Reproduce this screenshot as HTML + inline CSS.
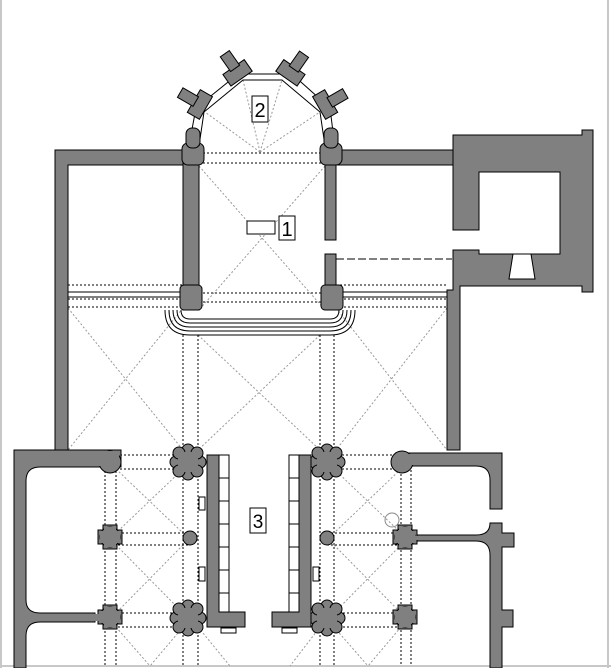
<!DOCTYPE html>
<html><head><meta charset="utf-8"><style>html,body{margin:0;padding:0;background:#fff}svg{display:block}</style></head><body>
<svg width="611" height="668" viewBox="0 0 611 668" xmlns="http://www.w3.org/2000/svg" font-family="Liberation Sans, sans-serif">
<rect x="0" y="0" width="611" height="668" fill="#fff"/>
<line x1="1" y1="0" x2="1" y2="668" stroke="#c8c8c8" stroke-width="2"/>
<line x1="608" y1="0" x2="608" y2="668" stroke="#c8c8c8" stroke-width="2"/>
<line x1="0" y1="666" x2="611" y2="666" stroke="#c8c8c8" stroke-width="2"/>

<g stroke="#999" stroke-width="1" stroke-dasharray="2,2" fill="none">
<line x1="199" y1="166" x2="325" y2="310"/><line x1="325" y1="166" x2="199" y2="310"/>
<line x1="260" y1="152" x2="243" y2="80"/><line x1="260" y1="152" x2="282" y2="80"/>
<line x1="260" y1="152" x2="205" y2="112"/><line x1="260" y1="152" x2="320" y2="112"/>
<line x1="68" y1="308" x2="183" y2="450"/><line x1="183" y1="308" x2="68" y2="450"/>
<line x1="198" y1="335" x2="320" y2="450"/><line x1="320" y1="335" x2="198" y2="450"/>
<line x1="336" y1="308" x2="447" y2="450"/><line x1="447" y1="308" x2="336" y2="450"/>
<line x1="116" y1="469" x2="183" y2="533"/><line x1="183" y1="469" x2="116" y2="533"/>
<line x1="116" y1="545" x2="183" y2="613"/><line x1="183" y1="545" x2="116" y2="613"/>
<line x1="116" y1="627" x2="150" y2="666"/><line x1="183" y1="627" x2="150" y2="666"/>
<line x1="334" y1="469" x2="401" y2="533"/><line x1="401" y1="469" x2="334" y2="533"/>
<line x1="334" y1="545" x2="401" y2="613"/><line x1="401" y1="545" x2="334" y2="613"/>
<line x1="334" y1="627" x2="368" y2="666"/><line x1="401" y1="627" x2="368" y2="666"/>
<line x1="198" y1="627" x2="230" y2="666"/><line x1="320" y1="627" x2="290" y2="666"/>
</g>

<g stroke="#000" stroke-width="1" stroke-dasharray="2,2" fill="none">
<line x1="199" y1="153" x2="325" y2="153"/><line x1="199" y1="163" x2="325" y2="163"/>
<line x1="199" y1="293" x2="325" y2="293"/><line x1="199" y1="302" x2="325" y2="302"/>
<line x1="68" y1="285" x2="183" y2="285"/><line x1="68" y1="299" x2="183" y2="299"/><line x1="68" y1="307" x2="183" y2="307"/>
<line x1="336" y1="285" x2="447" y2="285"/><line x1="336" y1="299" x2="447" y2="299"/><line x1="336" y1="307" x2="447" y2="307"/>
<line x1="183" y1="335" x2="183" y2="450"/><line x1="198" y1="335" x2="198" y2="450"/>
<line x1="320" y1="335" x2="320" y2="450"/><line x1="334" y1="335" x2="334" y2="450"/>
<line x1="105" y1="467" x2="105" y2="666"/><line x1="116" y1="467" x2="116" y2="666"/>
<line x1="183" y1="455" x2="183" y2="666"/><line x1="198" y1="455" x2="198" y2="666"/>
<line x1="320" y1="455" x2="320" y2="666"/><line x1="334" y1="455" x2="334" y2="666"/>
<line x1="401" y1="466" x2="401" y2="666"/><line x1="411" y1="466" x2="411" y2="666"/>
<line x1="120" y1="455" x2="183" y2="455"/><line x1="120" y1="469" x2="183" y2="469"/>
<line x1="334" y1="455" x2="400" y2="455"/><line x1="334" y1="469" x2="400" y2="469"/>
<line x1="110" y1="533" x2="190" y2="533"/><line x1="110" y1="545" x2="190" y2="545"/>
<line x1="327" y1="533" x2="405" y2="533"/><line x1="327" y1="545" x2="405" y2="545"/>
<line x1="110" y1="613" x2="190" y2="613"/><line x1="110" y1="627" x2="190" y2="627"/>
<line x1="327" y1="613" x2="405" y2="613"/><line x1="327" y1="627" x2="405" y2="627"/>
</g>
<line x1="336" y1="259" x2="452" y2="259" stroke="#000" stroke-dasharray="8,3"/>

<g fill="#808080" stroke="#000" stroke-width="1">
<path d="M55,150 H186 V165 H68 V450 H55 Z"/>
<path d="M183,150 H199 V310 H183 Z"/>
<path d="M325,150 H336 V240 H325 Z"/>
<path d="M325,254 H336 V310 H325 Z"/>
<path d="M336,150 H453 V165 H336 Z"/>
<path d="M453,135 H582 V130 H593 V292 H582 V286 H460 V450 H447 V290 H453 V250 H479 V254 H560 V172 H479 V230 H453 Z"/>
<path d="M513,254 H531 L535,279 H509 Z" fill="#fff"/>
</g>
<rect x="68" y="292" width="115" height="5" fill="#fff" stroke="#000"/>
<rect x="336" y="292" width="111" height="5" fill="#fff" stroke="#000"/>
<g fill="#808080" stroke="#000">
<rect x="180" y="285" width="22" height="25" rx="4"/>
<rect x="321" y="285" width="22" height="25" rx="4"/>
<rect x="182" y="143" width="22" height="22" rx="6"/>
<rect x="320" y="143" width="22" height="22" rx="6"/>
</g>
<g fill="none" stroke="#000" stroke-width="1">
<path d="M165,310 Q165,335 190,335 H330 Q355,335 355,310"/>
<path d="M169,310 Q169,331 190,331 H330 Q351,331 351,310"/>
<path d="M173,310 Q173,327 190,327 H330 Q347,327 347,310"/>
<path d="M177,310 Q177,323 190,323 H330 Q343,323 343,310"/>
<path d="M181,310 Q181,319 190,319 H330 Q339,319 339,310"/>
</g>
<g fill="none" stroke="#000">
<polyline points="190,140 196,108 238,74 292,74 330,108 334,140"/>
<polyline points="199,146 204,112 243,80 282,80 320,112 325,146"/>
</g>
<g fill="#808080" stroke="#000">
<g transform="translate(237,72) rotate(-35)"><rect x="-13" y="-6" width="26" height="14"/><rect x="-5" y="-22" width="11" height="18"/></g>
<g transform="translate(291,72) rotate(35)"><rect x="-13" y="-6" width="26" height="14"/><rect x="-5" y="-22" width="11" height="18"/></g>
<g transform="translate(199,104) rotate(-60)"><rect x="-13" y="-6" width="26" height="14"/><rect x="-5" y="-22" width="11" height="18"/></g>
<g transform="translate(326,104) rotate(60)"><rect x="-13" y="-6" width="26" height="14"/><rect x="-5" y="-22" width="11" height="18"/></g>
<rect x="186" y="128" width="14" height="20" rx="6"/>
<rect x="324" y="128" width="14" height="20" rx="6"/>
</g>
<rect x="247" y="221" width="28" height="13" fill="#fff" stroke="#000"/>
<rect x="279" y="216" width="16" height="24" fill="#fff" stroke="#000"/>
<text x="287" y="236" font-size="20" text-anchor="middle">1</text>
<rect x="252" y="96" width="16" height="26" fill="#fff" stroke="#000"/>
<text x="260" y="117" font-size="20" text-anchor="middle">2</text>

<g fill="#808080" stroke="#000">
<path d="M14,450 H121 V467 H40 Q26,467 26,481 V600 Q26,613 40,613 H95 V622 H40 Q26,622 26,636 V668 H14 Z"/>
<path d="M396,453 H502 V509 H490 V480 Q490,466 476,466 H400 Z"/>
<path d="M490,523 H502 V533 H514 V547 H502 V610 H513 V627 H502 V668 H490 V555 Q490,541 476,541 H410 V535 H476 Q490,535 490,523 Z"/>
</g>
<g fill="#808080" stroke="#000">
<g id="bp"><circle cx="188" cy="462" r="13"/><circle cx="188" cy="450" r="6"/><circle cx="188" cy="474" r="6"/><circle cx="176" cy="462" r="6"/><circle cx="200" cy="462" r="6"/><circle cx="179" cy="453" r="6"/><circle cx="197" cy="453" r="6"/><circle cx="179" cy="471" r="6"/><circle cx="197" cy="471" r="6"/></g>
<use href="#bp" x="139"/><use href="#bp" y="156"/><use href="#bp" x="139" y="156"/>
<g id="sp"><rect x="98" y="530" width="24" height="14"/><rect x="103" y="525" width="14" height="24"/><circle cx="110" cy="537" r="10"/></g>
<use href="#sp" y="80"/><use href="#sp" x="295"/><use href="#sp" x="295" y="80"/>
<circle cx="110" cy="462" r="11"/><circle cx="402" cy="462" r="11"/>
<circle cx="190" cy="538" r="7"/><circle cx="327" cy="538" r="7"/>
</g>
<g fill="#808080">
<rect x="178" y="452" width="20" height="20"/><rect x="317" y="452" width="20" height="20"/>
<rect x="178" y="608" width="20" height="20"/><rect x="317" y="608" width="20" height="20"/>
<rect x="100" y="531" width="20" height="12"/><rect x="104" y="527" width="12" height="20"/>
<rect x="100" y="611" width="20" height="12"/><rect x="104" y="607" width="12" height="20"/>
<rect x="395" y="531" width="20" height="12"/><rect x="399" y="527" width="12" height="20"/>
<rect x="395" y="611" width="20" height="12"/><rect x="399" y="607" width="12" height="20"/>
<rect x="95" y="451" width="24" height="15"/><rect x="398" y="454" width="16" height="11"/>
<rect x="85" y="614" width="20" height="7"/><rect x="410" y="536" width="10" height="4"/>
</g>
<circle cx="392" cy="520" r="7" fill="none" stroke="#888"/>
<g stroke="#000">
<path d="M207,455 H219 V612 H245 V627 H207 Z" fill="#808080"/>
<rect x="219" y="455" width="10" height="157" fill="#fff"/>
<path d="M311,455 H299 V612 H272 V627 H311 Z" fill="#808080"/>
<rect x="289" y="455" width="10" height="157" fill="#fff"/>
<rect x="221" y="628" width="15" height="5" fill="#fff"/>
<rect x="282" y="628" width="15" height="5" fill="#fff"/>
<rect x="199" y="497" width="6" height="13" fill="#fff"/>
<rect x="199" y="567" width="6" height="14" fill="#fff"/>
<rect x="313" y="567" width="6" height="14" fill="#fff"/>
<path d="M219,478H229M219,501H229M219,524H229M219,547H229M219,570H229M219,593H229M289,478H299M289,501H299M289,524H299M289,547H299M289,570H299M289,593H299" fill="none"/>
</g>
<rect x="250" y="508" width="16" height="25" fill="#fff" stroke="#000"/>
<text x="258" y="528" font-size="19" text-anchor="middle">3</text>
</svg>
</body></html>
